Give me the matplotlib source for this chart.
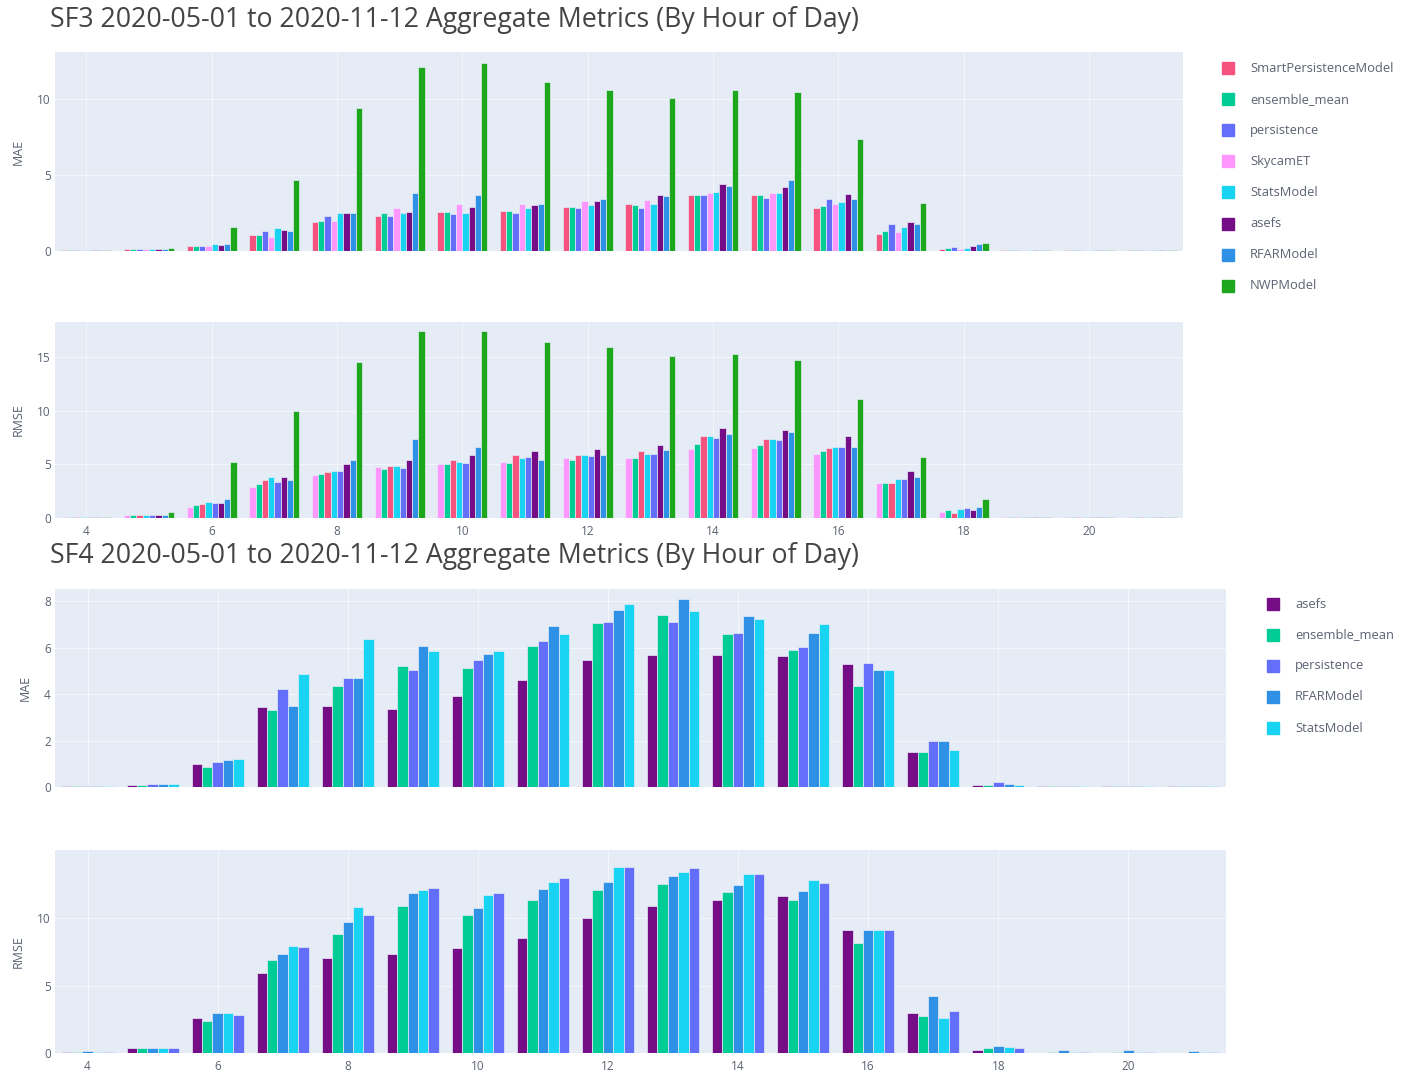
import matplotlib
matplotlib.use("Agg")
import matplotlib.pyplot as plt
import numpy as np

plt.rcParams["font.family"] = ["Open Sans", "DejaVu Sans"]

hours = list(range(4, 22))
tick_hours = [4, 6, 8, 10, 12, 14, 16, 18, 20]

# ---------------- SF3 ----------------
sf3_title = "SF3 2020-05-01 to 2020-11-12 Aggregate Metrics (By Hour of Day)"
sf3_mae_models = ["SmartPersistenceModel", "ensemble_mean", "persistence", "SkycamET",
                  "StatsModel", "asefs", "RFARModel", "NWPModel"]
sf3_rmse_models = ["SkycamET", "ensemble_mean", "SmartPersistenceModel", "StatsModel",
                   "persistence", "asefs", "RFARModel", "NWPModel"]

sf3_mae = {
    "SmartPersistenceModel": [0.05, 0.15, 0.35, 1.05, 1.93, 2.3, 2.6, 2.64, 2.9, 3.1, 3.7, 3.7, 2.85, 1.15, 0.15, 0.05, 0.05, 0.05],
    "ensemble_mean":         [0.05, 0.15, 0.35, 1.05, 2.0, 2.5, 2.6, 2.64, 2.9, 3.0, 3.7, 3.7, 2.95, 1.3, 0.2, 0.05, 0.05, 0.05],
    "persistence":           [0.05, 0.15, 0.35, 1.3, 2.3, 2.3, 2.45, 2.5, 2.85, 2.85, 3.7, 3.5, 3.4, 1.8, 0.25, 0.05, 0.05, 0.05],
    "SkycamET":              [0.05, 0.15, 0.3, 0.9, 2.0, 2.85, 3.1, 3.1, 3.3, 3.35, 3.85, 3.85, 3.1, 1.25, 0.15, 0.05, 0.05, 0.05],
    "StatsModel":            [0.05, 0.15, 0.45, 1.5, 2.5, 2.5, 2.5, 2.8, 3.0, 3.1, 3.9, 3.85, 3.2, 1.55, 0.2, 0.05, 0.05, 0.05],
    "asefs":                 [0.05, 0.15, 0.4, 1.35, 2.5, 2.6, 2.9, 3.0, 3.3, 3.7, 4.4, 4.2, 3.75, 1.9, 0.35, 0.05, 0.05, 0.05],
    "RFARModel":             [0.05, 0.15, 0.45, 1.3, 2.5, 3.8, 3.7, 3.1, 3.45, 3.6, 4.3, 4.7, 3.4, 1.8, 0.45, 0.05, 0.05, 0.05],
    "NWPModel":              [0.05, 0.2, 1.6, 4.7, 9.4, 12.1, 12.4, 11.1, 10.6, 10.1, 10.6, 10.45, 7.4, 3.15, 0.5, 0.05, 0.05, 0.05],
}
sf3_rmse = {
    "SkycamET":              [0.05, 0.25, 1.0, 2.9, 4.0, 4.8, 5.0, 5.25, 5.55, 5.55, 6.4, 6.5, 6.0, 3.3, 0.6, 0.05, 0.05, 0.05],
    "ensemble_mean":         [0.05, 0.25, 1.2, 3.2, 4.1, 4.6, 5.0, 5.15, 5.4, 5.55, 6.9, 6.8, 6.2, 3.3, 0.7, 0.05, 0.05, 0.05],
    "SmartPersistenceModel": [0.05, 0.25, 1.3, 3.5, 4.3, 4.85, 5.4, 5.85, 5.9, 6.2, 7.65, 7.4, 6.5, 3.25, 0.5, 0.05, 0.05, 0.05],
    "StatsModel":            [0.05, 0.28, 1.5, 3.85, 4.4, 4.85, 5.25, 5.55, 5.85, 5.95, 7.6, 7.4, 6.6, 3.6, 0.8, 0.05, 0.05, 0.05],
    "persistence":           [0.05, 0.28, 1.4, 3.4, 4.4, 4.7, 5.1, 5.65, 5.8, 6.0, 7.5, 7.3, 6.65, 3.6, 0.95, 0.05, 0.05, 0.05],
    "asefs":                 [0.05, 0.3, 1.4, 3.85, 5.0, 5.45, 5.9, 6.2, 6.4, 6.8, 8.35, 8.2, 7.65, 4.4, 0.7, 0.05, 0.05, 0.05],
    "RFARModel":             [0.05, 0.3, 1.75, 3.5, 5.45, 7.4, 6.65, 5.45, 5.85, 6.35, 7.8, 8.05, 6.65, 3.85, 1.0, 0.05, 0.05, 0.05],
    "NWPModel":              [0.05, 0.6, 5.25, 10.0, 14.5, 17.4, 17.45, 16.4, 15.95, 15.1, 15.3, 14.7, 11.05, 5.65, 1.75, 0.05, 0.05, 0.05],
}

# ---------------- SF4 ----------------
sf4_title = "SF4 2020-05-01 to 2020-11-12 Aggregate Metrics (By Hour of Day)"
sf4_mae_models = ["asefs", "ensemble_mean", "persistence", "RFARModel", "StatsModel"]
sf4_rmse_models = ["asefs", "ensemble_mean", "RFARModel", "StatsModel", "persistence"]

sf4_mae = {
    "asefs":         [0.05, 0.1, 1.0, 3.44, 3.5, 3.37, 3.9, 4.62, 5.48, 5.7, 5.66, 5.62, 5.3, 1.5, 0.1, 0.05, 0.03, 0.03],
    "ensemble_mean": [0.05, 0.1, 0.86, 3.3, 4.33, 5.19, 5.13, 6.05, 7.05, 7.38, 6.57, 5.9, 4.33, 1.5, 0.1, 0.05, 0.03, 0.03],
    "persistence":   [0.05, 0.15, 1.07, 4.23, 4.69, 5.05, 5.45, 6.27, 7.1, 7.1, 6.62, 6.02, 5.33, 2.0, 0.2, 0.05, 0.05, 0.03],
    "RFARModel":     [0.05, 0.15, 1.15, 3.47, 4.69, 6.05, 5.73, 6.91, 7.63, 8.1, 7.34, 6.62, 5.02, 2.0, 0.15, 0.05, 0.05, 0.05],
    "StatsModel":    [0.05, 0.15, 1.22, 4.85, 6.38, 5.85, 5.85, 6.57, 7.86, 7.57, 7.24, 7.02, 5.02, 1.58, 0.1, 0.05, 0.03, 0.03],
}
sf4_rmse = {
    "asefs":         [0.05, 0.4, 2.6, 5.93, 7.04, 7.36, 7.78, 8.52, 10.0, 10.86, 11.3, 11.65, 9.14, 2.96, 0.2, 0.03, 0.03, 0.03],
    "ensemble_mean": [0.05, 0.35, 2.35, 6.9, 8.84, 10.86, 10.25, 11.36, 12.1, 12.54, 11.9, 11.3, 8.15, 2.72, 0.37, 0.05, 0.05, 0.03],
    "RFARModel":     [0.15, 0.4, 3.0, 7.36, 9.68, 11.85, 10.74, 12.15, 12.7, 13.14, 12.47, 11.98, 9.09, 4.25, 0.54, 0.2, 0.2, 0.15],
    "StatsModel":    [0.05, 0.4, 2.95, 7.95, 10.8, 12.05, 11.73, 12.64, 13.78, 13.38, 13.28, 12.79, 9.09, 2.6, 0.44, 0.1, 0.1, 0.05],
    "persistence":   [0.05, 0.4, 2.85, 7.85, 10.25, 12.2, 11.85, 12.96, 13.78, 13.7, 13.28, 12.59, 9.09, 3.09, 0.37, 0.05, 0.05, 0.05],
}

colors = {
    "SmartPersistenceModel": "#F7537F",
    "ensemble_mean": "#00CC96",
    "persistence": "#636EFA",
    "SkycamET": "#FF97FF",
    "StatsModel": "#19D3F3",
    "asefs": "#750D86",
    "RFARModel": "#2E91E5",
    "NWPModel": "#1CA71C",
}

BG = "#E5ECF6"
TXT = "#5b6272"
W, H = 1403, 1074

fig = plt.figure(figsize=(W / 100, H / 100), dpi=100)
fig.patch.set_facecolor("white")


def make_axes(left, right, top, bottom):
    return fig.add_axes([left / W, 1 - bottom / H, (right - left) / W, (bottom - top) / H])


def draw_panel(ax, data, order, ylim, yticks, ylabel, show_x):
    ax.set_facecolor(BG)
    x = np.arange(len(hours))
    n = len(order)
    width = 0.8 / n
    for i, m in enumerate(order):
        offs = (i - (n - 1) / 2) * width
        ax.bar(x + offs, data[m], width=width, color=colors[m],
               edgecolor=BG, linewidth=0.5, zorder=3)
    ax.set_xlim(-0.5, len(hours) - 0.5)
    ax.set_ylim(*ylim)
    ax.set_yticks(yticks)
    ax.set_yticklabels([str(v) for v in yticks], fontsize=8.5, color=TXT)
    tpos = [hours.index(h) for h in tick_hours]
    ax.set_xticks(tpos)
    if show_x:
        ax.set_xticklabels([str(h) for h in tick_hours], fontsize=8.5, color=TXT)
    else:
        ax.set_xticklabels([])
    ax.tick_params(axis="y", length=0, pad=3)
    ax.tick_params(axis="x", length=0, pad=5)
    ax.grid(True, color="white", linewidth=0.8, alpha=0.55, zorder=0)
    ax.set_axisbelow(True)
    for s in ax.spines.values():
        s.set_visible(False)
    ax.set_ylabel(ylabel, fontsize=9, color=TXT, labelpad=9)


def add_legend(models, x_sq, y_first, step):
    for k, m in enumerate(models):
        yc = y_first + k * step
        fig.patches.append(plt.Rectangle(((x_sq - 6) / W, 1 - (yc + 6) / H), 12 / W, 12 / H,
                                         transform=fig.transFigure, color=colors[m], zorder=5))
        fig.text((x_sq + 22) / W, 1 - yc / H, m, fontsize=9.3, color=TXT,
                 va="center", ha="left")


# SF3 block
fig.text(50 / W, 1 - 20 / H, sf3_title, fontsize=19.2, color="#444444", va="center", ha="left")
ax1 = make_axes(55, 1183, 52, 251)
draw_panel(ax1, sf3_mae, sf3_mae_models, (0, 13.1), [0, 5, 10], "MAE", False)
ax2 = make_axes(55, 1183, 322, 518)
draw_panel(ax2, sf3_rmse, sf3_rmse_models, (0, 18.27), [0, 5, 10, 15], "RMSE", True)
add_legend(sf3_mae_models, 1228, 68, 31.1)

# SF4 block
fig.text(50 / W, 1 - 556 / H, sf4_title, fontsize=19.2, color="#444444", va="center", ha="left")
ax3 = make_axes(55, 1226, 589, 787)
draw_panel(ax3, sf4_mae, sf4_mae_models, (0, 8.52), [0, 2, 4, 6, 8], "MAE", False)
ax4 = make_axes(55, 1226, 850, 1053)
draw_panel(ax4, sf4_rmse, sf4_rmse_models, (0, 15.04), [0, 5, 10], "RMSE", True)
add_legend(sf4_mae_models, 1273, 604, 31)

fig.savefig("out.png", dpi=100, facecolor="white")
